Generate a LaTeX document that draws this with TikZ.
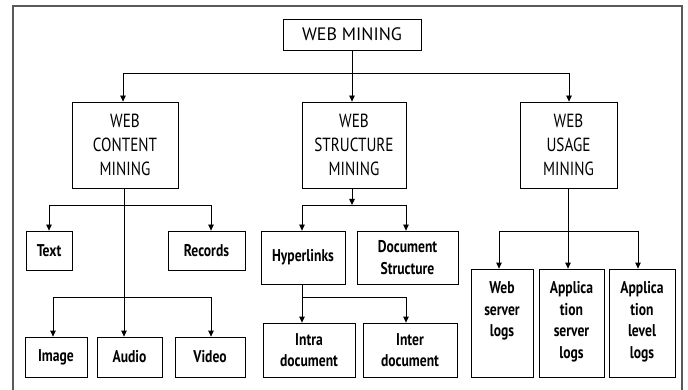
\documentclass[tikz,border=0pt]{standalone}
\usepackage{fontspec}
\setmainfont{PT Sans}
\newfontfamily\capsfont[FakeStretch=0.8]{PT Sans}
\newfontfamily\topfont[FakeStretch=1.0]{PT Sans}
\newfontfamily\lowfont[FakeStretch=0.8]{PT Sans Bold}
\usetikzlibrary{arrows.meta}
\begin{document}
\begin{tikzpicture}[x=1pt,y=-1pt,
  box/.style={draw=black, line width=0.8pt, inner sep=0pt, align=center},
  topbox/.style={box, font=\topfont\fontsize{18}{20}\selectfont},
  midbox/.style={box, font=\capsfont\fontsize{19}{24}\selectfont},
  lowbox/.style={box, font=\lowfont\fontsize{17}{21.5}\selectfont},
  lowtxt/.style={inner sep=0pt, align=center, font=\lowfont\fontsize{17}{21.5}\selectfont},
  conn/.style={line width=0.8pt},
  arr/.style={conn, -{Triangle[length=6pt,width=5.5pt]}}
]
\useasboundingbox (0,0) rectangle (688,390);
% frame
\draw[line width=1.4pt, draw=black!65] (13,395) -- (13,6) -- (682,6) -- (682,395);

% level 1
\node[topbox, minimum width=138pt, minimum height=31pt] (wm) at (352,34.5) {WEB MINING};

% level 2
\node[midbox, minimum width=106pt, minimum height=86pt] (content) at (125,145) {WEB\\CONTENT\\MINING};
\node[midbox, minimum width=104pt, minimum height=86pt] (structure) at (354,145) {WEB\\STRUCTURE\\MINING};
\node[midbox, minimum width=97pt, minimum height=86pt] (usage) at (568.5,145) {WEB\\USAGE\\MINING};

% content children
\node[lowbox, minimum width=46pt, minimum height=39pt] (text) at (49,250.5) {Text};
\node[lowbox, minimum width=77pt, minimum height=39pt] (records) at (206.5,250.5) {Records};
\node[lowbox, minimum width=62pt, minimum height=40pt] (image) at (56,357) {Image};
\node[lowbox, minimum width=65pt, minimum height=40pt] (audio) at (129.5,357) {Audio};
\node[lowbox, minimum width=70pt, minimum height=40pt] (video) at (210,357) {Video};

% structure children
\node[lowbox, minimum width=84pt, minimum height=53pt] (hyper) at (303,257.5) {Hyperlinks};
\node[lowbox, minimum width=101pt, minimum height=53pt] (docstr) at (407.5,257.5) {Document\\Structure};
\node[lowbox, minimum width=92pt, minimum height=54pt] (intra) at (309,350) {Intra\\document};
\node[lowbox, minimum width=94pt, minimum height=54pt] (inter) at (410,350) {Inter\\document};

% usage children
\node[box, minimum width=62pt, minimum height=108pt] (wsl) at (502,323) {};
\node[box, minimum width=65pt, minimum height=108pt] (asl) at (571.5,323) {};
\node[box, minimum width=66pt, minimum height=108pt] (all) at (642,323) {};
\node[lowtxt, anchor=north] (wslt) at ([yshift=-13pt]wsl.north) {Web\\server\\logs};
\node[lowtxt, anchor=north] (aslt) at ([yshift=-13pt]asl.north) {Applica\\tion\\server\\logs};
\node[lowtxt, anchor=north] (allt) at ([yshift=-13pt]all.north) {Applica\\tion\\level\\logs};

% level 1 -> level 2
\coordinate (b1) at (123,73);
\coordinate (b2) at (569,73);
\draw[conn] (b1) -- (b2);
\draw[arr] (b1) -- (b1 |- content.north);
\draw[arr] (wm.south) -- (wm.south |- structure.north);
\draw[arr] (b2) -- (b2 |- usage.north);

% content -> children
\coordinate (c0) at (124,188);
\coordinate (c1) at (49,205);
\coordinate (c2) at (211,205);
\coordinate (c3) at (53,297);
\coordinate (c4) at (211,297);
\draw[arr] (c0 |- content.south) -- (c0 |- audio.north);
\draw[conn] (c1) -- (c2);
\draw[arr] (c1) -- (c1 |- text.north);
\draw[arr] (c2) -- (c2 |- records.north);
\draw[conn] (c3) -- (c4);
\draw[arr] (c3) -- (c3 |- image.north);
\draw[arr] (c4) -- (c4 |- video.north);

% structure -> children
\coordinate (s0) at (352,205);
\coordinate (s1) at (302,205);
\coordinate (s2) at (406,205);
\draw[arr] (s0 |- structure.south) -- (s0);
\draw[conn] (s1) -- (s2);
\draw[arr] (s1) -- (s1 |- hyper.north);
\draw[arr] (s2) -- (s2 |- docstr.north);
\coordinate (h1) at (302,297);
\coordinate (h2) at (406,297);
\draw[conn] (h1 |- hyper.south) -- (h1);
\draw[conn] (h1) -- (h2);
\draw[arr] (h1) -- (h1 |- intra.north);
\draw[arr] (h2) -- (h2 |- inter.north);

% usage -> children
\coordinate (u0) at (568,231);
\coordinate (u1) at (499,231);
\coordinate (u2) at (638,231);
\draw[conn] (u0 |- usage.south) -- (u0);
\draw[conn] (u1) -- (u2);
\draw[arr] (u1) -- (u1 |- wsl.north);
\draw[arr] (u0) -- (u0 |- asl.north);
\draw[arr] (u2) -- (u2 |- all.north);
\end{tikzpicture}
\end{document}
